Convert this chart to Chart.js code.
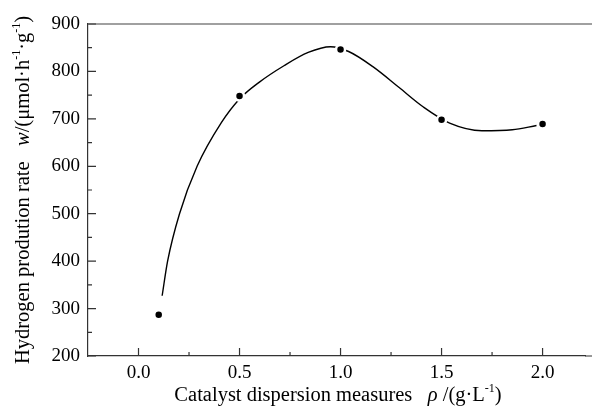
<!DOCTYPE html>
<html lang="en">
<head>
<meta charset="UTF-8">
<title>Hydrogen production rate</title>
<script src="https://cdn.jsdelivr.net/npm/chart.js"></script>
<style>
  body { margin: 0; background: #fff; overflow: hidden; }
  #wrap { width: 592px; height: 410px; }
</style>
</head>
<body>
<div id="wrap"><canvas id="chart"></canvas></div>
<script>
// measured points
const dispersion = [0.1, 0.5, 1.0, 1.5, 2.0];
const rate = [287, 748, 846, 698, 689];

// fitted curve
const curveX = [0.117, 0.144, 0.203, 0.29, 0.41, 0.50, 0.60, 0.72, 0.84, 0.95, 1.04, 1.16, 1.29, 1.41, 1.54, 1.70, 1.85, 1.97];
const curveY = [327, 400, 500, 600, 692, 742, 778, 812, 840, 852, 842, 810, 766, 725, 691, 675, 677, 686];

const xTicks = [0, 0.5, 1.0, 1.5, 2.0];
const xMinor = [0.25, 0.75, 1.25, 1.75];
const yTicks = [200, 300, 400, 500, 600, 700, 800, 900];
const yMinor = [250, 350, 450, 550, 650, 750, 850];

const serif = "'Liberation Serif', 'Times New Roman', serif";

// x title and y title pieces (italic / superscript parts)
const xTitle = [
  { t: 'Catalyst dispersion measures   ' },
  { t: 'ρ', i: true },
  { t: ' /(g·L' },
  { t: '-1', sup: true },
  { t: ')' }
];
const yTitle = [
  { t: 'Hydrogen prodution rate   ' },
  { t: 'w', i: true },
  { t: '/(μmol·h' },
  { t: '-1', sup: true },
  { t: '·g' },
  { t: '-1', sup: true },
  { t: ')' }
];

function segFont(s, size) {
  let sz = s.sup ? Math.round(size * 0.6) : size;
  return (s.i ? 'italic ' : '') + sz + 'px ' + serif;
}

function drawRich(ctx, parts, size) {
  // draws centred at 0,0 on the baseline
  let total = 0;
  parts.forEach(p => { ctx.font = segFont(p, size); total += ctx.measureText(p.t).width; });
  let x = -total / 2;
  parts.forEach(p => {
    ctx.font = segFont(p, size);
    ctx.fillText(p.t, x, p.sup ? -size * 0.42 : 0);
    x += ctx.measureText(p.t).width;
  });
}

const frame = {
  id: 'frame',
  afterDraw(chart) {
    const ctx = chart.ctx;
    const a = chart.chartArea;
    const xs = chart.scales.x, ys = chart.scales.y;
    ctx.save();
    // top line
    ctx.strokeStyle = '#a0a0a0';
    ctx.lineWidth = 2;
    ctx.beginPath();
    ctx.moveTo(a.left, a.top);
    ctx.lineTo(592, a.top);
    ctx.stroke();

    // inward ticks
    ctx.strokeStyle = '#333';
    ctx.lineWidth = 1.2;
    ctx.beginPath();
    xTicks.forEach(v => { let p = xs.getPixelForValue(v); ctx.moveTo(p, a.bottom); ctx.lineTo(p, a.bottom - 8); });
    xMinor.forEach(v => { let p = xs.getPixelForValue(v); ctx.moveTo(p, a.bottom); ctx.lineTo(p, a.bottom - 4); });
    yTicks.forEach(v => { let p = ys.getPixelForValue(v); ctx.moveTo(a.left, p); ctx.lineTo(a.left + 8, p); });
    yMinor.forEach(v => { let p = ys.getPixelForValue(v); ctx.moveTo(a.left, p); ctx.lineTo(a.left + 4, p); });
    // bottom axis runs off the right edge
    ctx.moveTo(a.right, a.bottom);
    ctx.lineTo(592, a.bottom);
    ctx.stroke();

    // axis titles
    ctx.fillStyle = '#000';
    ctx.textBaseline = 'alphabetic';
    ctx.textAlign = 'left';
    ctx.save();
    ctx.translate(338, 401);
    drawRich(ctx, xTitle, 20.5);
    ctx.restore();
    ctx.save();
    ctx.translate(29, (a.top + a.bottom) / 2);
    ctx.rotate(-Math.PI / 2);
    drawRich(ctx, yTitle, 20.5);
    ctx.restore();
    ctx.restore();
  }
};

new Chart(document.getElementById('chart'), {
  type: 'scatter',
  data: {
    datasets: [
      {
        label: 'rate',
        data: dispersion.map((x, i) => ({ x: x, y: rate[i] })),
        backgroundColor: '#000',
        borderColor: '#fff',
        borderWidth: 2.5,
        pointRadius: 4.5,
        order: 0
      },
      {
        label: 'fit',
        data: curveX.map((x, i) => ({ x: x, y: curveY[i] })),
        showLine: true,
        borderColor: '#000',
        borderWidth: 1.4,
        pointRadius: 0,
        cubicInterpolationMode: 'monotone',
        order: 1
      }
    ]
  },
  options: {
    responsive: true,
    maintainAspectRatio: false,
    animation: false,
    layout: { padding: { top: 24, left: 0, right: 0, bottom: 0 } },
    plugins: { legend: { display: false }, tooltip: { enabled: false } },
    scales: {
      x: {
        type: 'linear',
        min: -0.25,
        max: 2.21,
        afterBuildTicks: s => { s.ticks = xTicks.map(v => ({ value: v })); },
        afterFit: s => { s.height = 54; },
        grid: { display: false, drawTicks: false },
        border: { display: true, color: '#333', width: 1.2 },
        ticks: {
          color: '#000',
          padding: 6,
          font: { family: serif, size: 19 },
          callback: v => v.toFixed(1)
        }
      },
      y: {
        min: 200,
        max: 900,
        afterBuildTicks: s => { s.ticks = yTicks.map(v => ({ value: v })); },
        afterFit: s => { s.width = 88; },
        grid: { display: false, drawTicks: false },
        border: { display: true, color: '#333', width: 1.2 },
        ticks: {
          color: '#000',
          padding: 8,
          font: { family: serif, size: 19 }
        }
      }
    }
  },
  plugins: [frame]
});
</script>
</body>
</html>
